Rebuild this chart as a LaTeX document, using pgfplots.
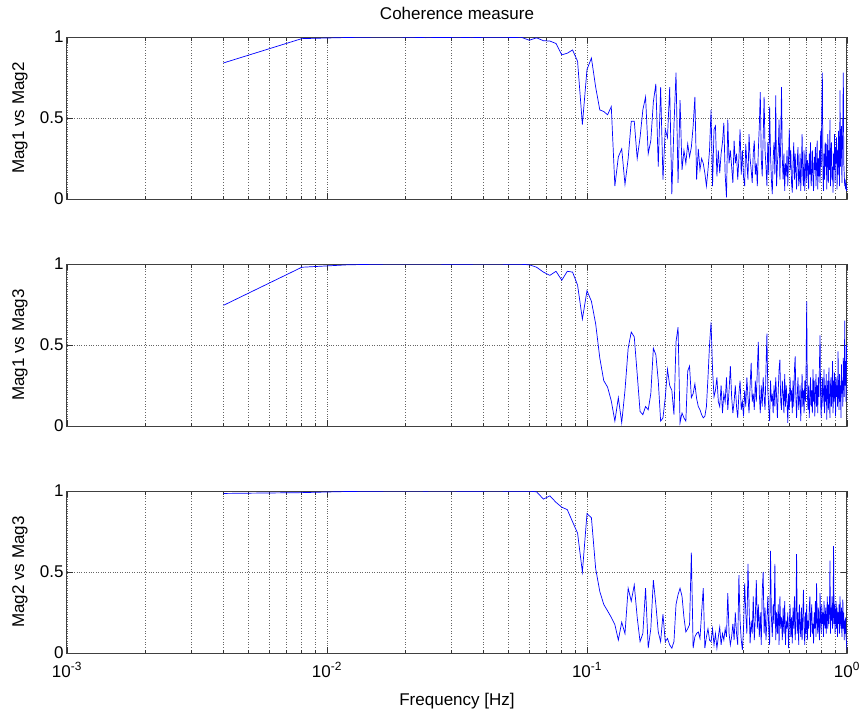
\documentclass[border=0pt]{standalone}
\usepackage{fontspec}
\setmainfont{Liberation Sans}
\usepackage{pgfplots}
\usepackage{pgfplotstable}
\pgfplotsset{compat=1.18}
\pgfplotstableread{
f a b c
0.004 0.84 0.745 0.985
0.008 0.99 0.98 0.99
0.012 0.997 0.995 0.997
0.016 1.0 0.999 0.999
0.020 0.999 1.0 1.0
0.024 0.996 1.0 0.999
0.028 0.997 0.999 1.0
0.032 0.998 0.998 0.999
0.036 0.996 0.999 0.998
0.040 0.998 1.0 0.999
0.044 0.999 1.0 1.0
0.048 0.998 0.999 0.999
0.052 0.997 0.999 0.999
0.056 0.998 0.998 0.998
0.060 0.98 0.995 0.999
0.064 0.995 0.98 0.995
0.068 0.977 0.95 0.95
0.072 0.975 0.93 0.97
0.076 0.96 0.955 0.93
0.080 0.89 0.90 0.90
0.084 0.90 0.955 0.885
0.088 0.92 0.95 0.81
0.092 0.85 0.87 0.74
0.096 0.46 0.66 0.50
0.100 0.80 0.835 0.86
0.104 0.87 0.77 0.835
0.108 0.69 0.63 0.52
0.112 0.55 0.42 0.38
0.116 0.54 0.28 0.30
0.120 0.52 0.24 0.26
0.124 0.57 0.155 0.22
0.128 0.08 0.03 0.175
0.132 0.26 0.175 0.08
0.136 0.31 0.02 0.19
0.140 0.09 0.22 0.12
0.144 0.25 0.48 0.40
0.148 0.48 0.58 0.32
0.152 0.48 0.55 0.42
0.156 0.25 0.32 0.22
0.160 0.38 0.09 0.07
0.164 0.55 0.07 0.12
0.168 0.63 0.12 0.40
0.172 0.28 0.10 0.03
0.176 0.36 0.20 0.15
0.180 0.60 0.48 0.45
0.184 0.71 0.44 0.30
0.188 0.20 0.28 0.13
0.192 0.69 0.03 0.07
0.196 0.12 0.05 0.24
0.200 0.43 0.175 0.07
0.204 0.38 0.35 0.09
0.208 0.69 0.25 0.05
0.212 0.03 0.22 0.03
0.216 0.45 0.07 0.07
0.220 0.78 0.52 0.30
0.224 0.10 0.61 0.36
0.228 0.61 0.02 0.40
0.232 0.18 0.08 0.35
0.236 0.30 0.05 0.22
0.240 0.22 0.03 0.13
0.244 0.34 0.34 0.15
0.248 0.26 0.37 0.175
0.252 0.32 0.175 0.62
0.256 0.45 0.20 0.03
0.260 0.63 0.26 0.10
0.264 0.12 0.17 0.12
0.268 0.31 0.12 0.13
0.272 0.18 0.10 0.09
0.276 0.25 0.07 0.25
0.280 0.22 0.05 0.40
0.284 0.16 0.06 0.03
0.288 0.08 0.12 0.10
0.292 0.18 0.30 0.15
0.296 0.30 0.50 0.08
0.300 0.55 0.64 0.07
0.304 0.08 0.35 0.15
0.308 0.43 0.18 0.05
0.312 0.45 0.22 0.12
0.316 0.14 0.30 0.03
0.320 0.30 0.15 0.10
0.324 0.16 0.12 0.16
0.328 0.28 0.25 0.05
0.332 0.35 0.08 0.12
0.336 0.47 0.20 0.08
0.340 0.15 0.15 0.15
0.344 0.01 0.30 0.10
0.348 0.49 0.10 0.37
0.352 0.22 0.22 0.12
0.356 0.30 0.37 0.05
0.360 0.20 0.18 0.10
0.364 0.10 0.08 0.18
0.368 0.36 0.15 0.08
0.372 0.22 0.25 0.25
0.376 0.28 0.12 0.12
0.380 0.12 0.05 0.05
0.384 0.25 0.20 0.48
0.388 0.43 0.28 0.20
0.392 0.15 0.10 0.08
0.396 0.30 0.15 0.02
0.400 0.14 0.06 0.15
0.404 0.08 0.22 0.43
0.408 0.34 0.12 0.25
0.412 0.22 0.30 0.12
0.416 0.12 0.18 0.55
0.420 0.40 0.08 0.30
0.424 0.25 0.25 0.06
0.428 0.18 0.39 0.20
0.432 0.10 0.15 0.12
0.436 0.28 0.20 0.35
0.440 0.36 0.10 0.08
0.444 0.15 0.28 0.22
0.448 0.22 0.15 0.45
0.452 0.08 0.35 0.15
0.456 0.30 0.52 0.30
0.460 0.45 0.20 0.10
0.464 0.66 0.08 0.25
0.468 0.25 0.25 0.05
0.472 0.14 0.12 0.38
0.476 0.38 0.30 0.50
0.480 0.63 0.18 0.12
0.484 0.30 0.10 0.28
0.488 0.20 0.35 0.08
0.492 0.08 0.57 0.20
0.496 0.35 0.22 0.35
0.500 0.15 0.12 0.15
0.504 0.57 0.03 0.05
0.508 0.28 0.28 0.63
0.512 0.12 0.15 0.22
0.516 0.03 0.20 0.10
0.520 0.25 0.08 0.30
0.524 0.35 0.25 0.18
0.528 0.15 0.12 0.55
0.532 0.64 0.30 0.08
0.536 0.08 0.18 0.25
0.540 0.22 0.05 0.12
0.544 0.30 0.22 0.30
0.548 0.49 0.35 0.05
0.552 0.12 0.41 0.35
0.556 0.35 0.15 0.15
0.560 0.69 0.10 0.22
0.564 0.25 0.28 0.08
0.568 0.12 0.20 0.28
0.572 0.28 0.08 0.12
0.576 0.05 0.32 0.32
0.580 0.22 0.12 0.05
0.584 0.14 0.25 0.20
0.588 0.30 0.15 0.15
0.592 0.08 0.02 0.25
0.596 0.25 0.20 0.03
0.600 0.43 0.10 0.18
0.604 0.18 0.30 0.30
0.608 0.30 0.15 0.10
0.612 0.10 0.22 0.22
0.616 0.04 0.08 0.06
0.620 0.22 0.28 0.28
0.624 0.35 0.12 0.15
0.628 0.12 0.35 0.35
0.632 0.28 0.43 0.08
0.636 0.16 0.18 0.20
0.640 0.06 0.05 0.61
0.644 0.25 0.20 0.12
0.648 0.32 0.30 0.25
0.652 0.08 0.10 0.05
0.656 0.12 0.15 0.30
0.660 0.28 0.25 0.18
0.664 0.05 0.03 0.10
0.668 0.20 0.18 0.28
0.672 0.40 0.32 0.08
0.676 0.15 0.12 0.22
0.680 0.08 0.22 0.39
0.684 0.30 0.08 0.15
0.688 0.05 0.28 0.05
0.692 0.18 0.15 0.25
0.696 0.32 0.35 0.12
0.700 0.10 0.77 0.30
0.704 0.24 0.20 0.08
0.708 0.20 0.10 0.20
0.712 0.06 0.25 0.15
0.716 0.28 0.05 0.28
0.720 0.15 0.18 0.35
0.724 0.35 0.30 0.10
0.728 0.08 0.12 0.22
0.732 0.16 0.22 0.30
0.736 0.30 0.08 0.12
0.740 0.12 0.35 0.18
0.744 0.05 0.15 0.06
0.748 0.26 0.28 0.25
0.752 0.18 0.06 0.15
0.756 0.32 0.20 0.32
0.760 0.08 0.32 0.10
0.764 0.22 0.12 0.43
0.768 0.36 0.25 0.20
0.772 0.06 0.08 0.12
0.776 0.25 0.30 0.28
0.780 0.14 0.18 0.15
0.784 0.30 0.40 0.08
0.788 0.10 0.56 0.37
0.792 0.42 0.15 0.22
0.796 0.20 0.05 0.12
0.800 0.55 0.22 0.30
0.804 0.78 0.30 0.18
0.808 0.15 0.12 0.25
0.812 0.05 0.20 0.10
0.816 0.28 0.35 0.32
0.820 0.12 0.08 0.20
0.824 0.35 0.25 0.15
0.828 0.20 0.15 0.28
0.832 0.34 0.32 0.12
0.836 0.06 0.04 0.22
0.840 0.25 0.22 0.35
0.844 0.40 0.28 0.15
0.848 0.10 0.10 0.30
0.852 0.30 0.36 0.18
0.856 0.18 0.18 0.25
0.860 0.49 0.05 0.57
0.864 0.08 0.25 0.12
0.868 0.25 0.30 0.28
0.872 0.35 0.12 0.20
0.876 0.12 0.20 0.35
0.880 0.20 0.40 0.15
0.884 0.04 0.08 0.25
0.888 0.28 0.28 0.66
0.892 0.18 0.15 0.18
0.896 0.40 0.33 0.30
0.900 0.10 0.22 0.12
0.904 0.32 0.06 0.22
0.908 0.22 0.30 0.32
0.912 0.38 0.18 0.15
0.916 0.06 0.25 0.28
0.920 0.30 0.12 0.10
0.924 0.15 0.46 0.25
0.928 0.42 0.20 0.18
0.932 0.25 0.10 0.30
0.936 0.08 0.32 0.12
0.940 0.67 0.15 0.35
0.944 0.20 0.25 0.22
0.948 0.35 0.05 0.15
0.952 0.45 0.38 0.28
0.956 0.10 0.20 0.10
0.960 0.30 0.28 0.20
0.964 0.50 0.12 0.33
0.968 0.78 0.42 0.15
0.972 0.22 0.30 0.25
0.976 0.15 0.18 0.08
0.980 0.08 0.65 0.20
0.984 0.12 0.25 0.12
0.988 0.06 0.40 0.22
0.992 0.10 0.15 0.10
0.996 0.05 0.50 0.06
1.000 0.07 0.35 0.02
}\coh

\pgfplotsset{
  cohaxis/.style={
    scale only axis, width=780pt, height=162pt,
    xmin=0.001, xmax=1, ymin=0, ymax=1,
    xtick={0.001,0.01,0.1,1},
    minor xtick={0.002,0.003,0.004,0.005,0.006,0.007,0.008,0.009,0.02,0.03,0.04,0.05,0.06,0.07,0.08,0.09,0.2,0.3,0.4,0.5,0.6,0.7,0.8,0.9},
    ytick={0,0.5,1}, yticklabels={0,0.5,1},
    xmajorgrids, xminorgrids, ymajorgrids,
    grid style={dotted, black!60, line width=0.7pt},
    minor grid style={dotted, black!60, line width=0.7pt},
    major tick length=6pt, minor tick length=3.5pt,
    tick style={black!80, line width=0.7pt},
    axis line style={black!75, line width=1pt},
    tick label style={font=\fontsize{17}{20}\selectfont},
    xticklabel shift=6pt,
    label style={font=\fontsize{17}{20}\selectfont},
    title style={font=\fontsize{17}{20}\selectfont},
    ylabel style={at={(axis description cs:-0.0603,0.5)}, anchor=center},
  }
}

\begin{document}
\begin{tikzpicture}
\useasboundingbox (0,0) rectangle (863pt,-713pt);
\begin{semilogxaxis}[cohaxis, at={(67pt,-37pt)}, anchor=north west,
  xticklabels={}, ylabel={Mag1 vs Mag2},
  title={Coherence measure},
  title style={at={(axis description cs:0.5,1.111)}, anchor=center}]
\addplot[blue, line width=0.7pt] table[x=f, y=a] {\coh};
\end{semilogxaxis}
\begin{semilogxaxis}[cohaxis, at={(67pt,-264pt)}, anchor=north west,
  xticklabels={}, ylabel={Mag1 vs Mag3}]
\addplot[blue, line width=0.7pt] table[x=f, y=b] {\coh};
\end{semilogxaxis}
\begin{semilogxaxis}[cohaxis, at={(67pt,-491pt)}, anchor=north west,
  xticklabels={10\textsuperscript{-3},10\textsuperscript{-2},10\textsuperscript{-1},10\textsuperscript{0}},
  ylabel={Mag2 vs Mag3}, xlabel={Frequency [Hz]},
  xlabel style={at={(axis description cs:0.5,-0.295)}, anchor=center}]
\addplot[blue, line width=0.7pt] table[x=f, y=c] {\coh};
\end{semilogxaxis}
\end{tikzpicture}
\end{document}
